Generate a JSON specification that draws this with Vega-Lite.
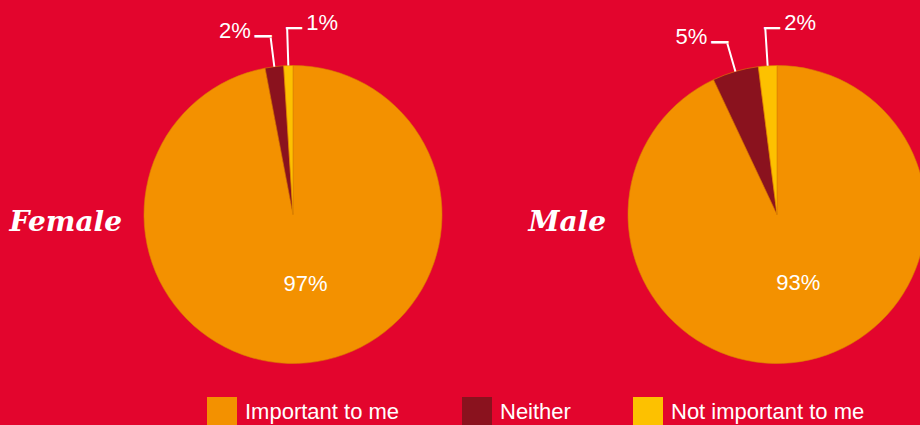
{
  "$schema": "https://vega.github.io/schema/vega-lite/v6.json",
  "width": 920,
  "height": 425,
  "autosize": {"type": "none"},
  "padding": {"left": 0, "top": 2, "right": 0, "bottom": 0},
  "background": "#E3052D",
  "config": {
    "view": {"stroke": null},
    "font": "Liberation Sans",
    "legend": {
      "orient": "none",
      "legendX": 207,
      "legendY": 395,
      "direction": "horizontal",
      "symbolType": "square",
      "symbolSize": 900,
      "symbolStrokeWidth": 0,
      "labelFont": "Liberation Sans",
      "labelFontSize": 22,
      "labelColor": "white",
      "labelOffset": 8,
      "labelLimit": 300,
      "columnPadding": 62,
      "padding": 0
    }
  },
  "data": {
    "values": [
      {"gender": "Female", "response": "Important to me", "pct": 97, "label": "97%"},
      {"gender": "Female", "response": "Neither", "pct": 2, "label": "2%"},
      {"gender": "Female", "response": "Not important to me", "pct": 1, "label": "1%"},
      {"gender": "Male", "response": "Important to me", "pct": 93, "label": "93%"},
      {"gender": "Male", "response": "Neither", "pct": 5, "label": "5%"},
      {"gender": "Male", "response": "Not important to me", "pct": 2, "label": "2%"}
    ]
  },
  "encoding": {
    "x": {"field": "gender", "type": "nominal", "scale": {"type": "point", "padding": 0.45041, "align": 0.67202}, "axis": null}
  },
  "layer": [
    {
      "transform": [{"filter": "datum.gender === 'Female'"}],
      "mark": {"type": "arc", "radius": 149, "stroke": "#DA8200", "strokeWidth": 0.6},
      "encoding": {
        "theta": {"field": "pct", "type": "quantitative", "stack": true, "scale": {"domain": [0, 100]}},
        "order": {"field": "response", "type": "nominal", "sort": "ascending"},
        "color": {
          "field": "response", "type": "nominal", "title": null,
          "scale": {"domain": ["Important to me", "Neither", "Not important to me"], "range": ["#F39100", "#8A121E", "#FDC100"]}
        }
      }
    },
    {
      "transform": [{"filter": "datum.gender === 'Male'"}],
      "mark": {"type": "arc", "radius": 149, "stroke": "#DA8200", "strokeWidth": 0.6},
      "encoding": {
        "theta": {"field": "pct", "type": "quantitative", "stack": true, "scale": {"domain": [0, 100]}},
        "order": {"field": "response", "type": "nominal", "sort": "ascending"},
        "color": {"field": "response", "type": "nominal", "title": null}
      }
    },
    {
      "transform": [{"filter": "datum.gender === 'Female'"}],
      "mark": {"type": "arc", "radius": 178, "radius2": 149, "padAngle": 0.6, "filled": false, "stroke": "white", "strokeWidth": 2},
      "encoding": {
        "theta": {"field": "pct", "type": "quantitative", "stack": true},
        "order": {"field": "response", "type": "nominal", "sort": "ascending"},
        "detail": {"field": "response", "type": "nominal"},
        "strokeOpacity": {"condition": {"test": "datum.response === 'Neither'", "value": 1}, "value": 0}
      }
    },
    {
      "transform": [{"filter": "datum.gender === 'Male'"}],
      "mark": {"type": "arc", "radius": 178, "radius2": 149, "padAngle": 0.6, "filled": false, "stroke": "white", "strokeWidth": 2},
      "encoding": {
        "theta": {"field": "pct", "type": "quantitative", "stack": true},
        "order": {"field": "response", "type": "nominal", "sort": "ascending"},
        "detail": {"field": "response", "type": "nominal"},
        "strokeOpacity": {"condition": {"test": "datum.response === 'Neither'", "value": 1}, "value": 0}
      }
    },
    {
      "transform": [{"filter": "datum.gender === 'Female'"}],
      "mark": {"type": "arc", "radius": 186, "radius2": 149, "padAngle": 0.6, "filled": false, "stroke": "white", "strokeWidth": 2},
      "encoding": {
        "theta": {"field": "pct", "type": "quantitative", "stack": true},
        "order": {"field": "response", "type": "nominal", "sort": "ascending"},
        "detail": {"field": "response", "type": "nominal"},
        "strokeOpacity": {"condition": {"test": "datum.response === 'Not important to me'", "value": 1}, "value": 0}
      }
    },
    {
      "transform": [{"filter": "datum.gender === 'Male'"}],
      "mark": {"type": "arc", "radius": 186, "radius2": 149, "padAngle": 0.6, "filled": false, "stroke": "white", "strokeWidth": 2},
      "encoding": {
        "theta": {"field": "pct", "type": "quantitative", "stack": true},
        "order": {"field": "response", "type": "nominal", "sort": "ascending"},
        "detail": {"field": "response", "type": "nominal"},
        "strokeOpacity": {"condition": {"test": "datum.response === 'Not important to me'", "value": 1}, "value": 0}
      }
    },
    {
      "transform": [{"filter": "datum.gender === 'Female'"}],
      "mark": {"type": "text", "radius": 178, "font": "DejaVu Sans", "fontSize": 28, "color": "white", "align": "right", "baseline": "middle", "dx": 1},
      "encoding": {
        "theta": {"field": "pct", "type": "quantitative", "stack": true},
        "order": {"field": "response", "type": "nominal", "sort": "ascending"},
        "detail": {"field": "response", "type": "nominal"},
        "text": {"condition": {"test": "datum.response === 'Neither'", "value": "─"}, "value": ""}
      }
    },
    {
      "transform": [{"filter": "datum.gender === 'Male'"}],
      "mark": {"type": "text", "radius": 178, "font": "DejaVu Sans", "fontSize": 28, "color": "white", "align": "right", "baseline": "middle", "dx": 1},
      "encoding": {
        "theta": {"field": "pct", "type": "quantitative", "stack": true},
        "order": {"field": "response", "type": "nominal", "sort": "ascending"},
        "detail": {"field": "response", "type": "nominal"},
        "text": {"condition": {"test": "datum.response === 'Neither'", "value": "─"}, "value": ""}
      }
    },
    {
      "transform": [{"filter": "datum.gender === 'Female'"}],
      "mark": {"type": "text", "radius": 186, "font": "DejaVu Sans", "fontSize": 26, "color": "white", "align": "left", "baseline": "middle", "dx": -1},
      "encoding": {
        "theta": {"field": "pct", "type": "quantitative", "stack": true},
        "order": {"field": "response", "type": "nominal", "sort": "ascending"},
        "detail": {"field": "response", "type": "nominal"},
        "text": {"condition": {"test": "datum.response === 'Not important to me'", "value": "─"}, "value": ""}
      }
    },
    {
      "transform": [{"filter": "datum.gender === 'Male'"}],
      "mark": {"type": "text", "radius": 186, "font": "DejaVu Sans", "fontSize": 26, "color": "white", "align": "left", "baseline": "middle", "dx": -1},
      "encoding": {
        "theta": {"field": "pct", "type": "quantitative", "stack": true},
        "order": {"field": "response", "type": "nominal", "sort": "ascending"},
        "detail": {"field": "response", "type": "nominal"},
        "text": {"condition": {"test": "datum.response === 'Not important to me'", "value": "─"}, "value": ""}
      }
    },
    {
      "transform": [{"filter": "datum.gender === 'Female'"}],
      "mark": {"type": "text", "radius": 70, "fontSize": 22, "color": "white", "align": "center", "baseline": "middle", "dx": 6},
      "encoding": {
        "theta": {"field": "pct", "type": "quantitative", "stack": true},
        "order": {"field": "response", "type": "nominal", "sort": "ascending"},
        "detail": {"field": "response", "type": "nominal"},
        "text": {"condition": {"test": "datum.response === 'Important to me'", "field": "label"}, "value": ""}
      }
    },
    {
      "transform": [{"filter": "datum.gender === 'Male'"}],
      "mark": {"type": "text", "radius": 70, "fontSize": 22, "color": "white", "align": "center", "baseline": "middle", "dx": 6},
      "encoding": {
        "theta": {"field": "pct", "type": "quantitative", "stack": true},
        "order": {"field": "response", "type": "nominal", "sort": "ascending"},
        "detail": {"field": "response", "type": "nominal"},
        "text": {"condition": {"test": "datum.response === 'Important to me'", "field": "label"}, "value": ""}
      }
    },
    {
      "transform": [{"filter": "datum.gender === 'Female'"}],
      "mark": {"type": "text", "radius": 178, "fontSize": 22, "color": "white", "align": "right", "baseline": "middle", "dx": -20, "dy": -7},
      "encoding": {
        "theta": {"field": "pct", "type": "quantitative", "stack": true},
        "order": {"field": "response", "type": "nominal", "sort": "ascending"},
        "detail": {"field": "response", "type": "nominal"},
        "text": {"condition": {"test": "datum.response === 'Neither'", "field": "label"}, "value": ""}
      }
    },
    {
      "transform": [{"filter": "datum.gender === 'Male'"}],
      "mark": {"type": "text", "radius": 178, "fontSize": 22, "color": "white", "align": "right", "baseline": "middle", "dx": -20, "dy": -7},
      "encoding": {
        "theta": {"field": "pct", "type": "quantitative", "stack": true},
        "order": {"field": "response", "type": "nominal", "sort": "ascending"},
        "detail": {"field": "response", "type": "nominal"},
        "text": {"condition": {"test": "datum.response === 'Neither'", "field": "label"}, "value": ""}
      }
    },
    {
      "transform": [{"filter": "datum.gender === 'Female'"}],
      "mark": {"type": "text", "radius": 186, "fontSize": 22, "color": "white", "align": "left", "baseline": "middle", "dx": 19, "dy": -6},
      "encoding": {
        "theta": {"field": "pct", "type": "quantitative", "stack": true},
        "order": {"field": "response", "type": "nominal", "sort": "ascending"},
        "detail": {"field": "response", "type": "nominal"},
        "text": {"condition": {"test": "datum.response === 'Not important to me'", "field": "label"}, "value": ""}
      }
    },
    {
      "transform": [{"filter": "datum.gender === 'Male'"}],
      "mark": {"type": "text", "radius": 186, "fontSize": 22, "color": "white", "align": "left", "baseline": "middle", "dx": 19, "dy": -6},
      "encoding": {
        "theta": {"field": "pct", "type": "quantitative", "stack": true},
        "order": {"field": "response", "type": "nominal", "sort": "ascending"},
        "detail": {"field": "response", "type": "nominal"},
        "text": {"condition": {"test": "datum.response === 'Not important to me'", "field": "label"}, "value": ""}
      }
    },
    {
      "mark": {"type": "text", "align": "right", "baseline": "alphabetic", "dx": -171, "dy": 16, "font": "DejaVu Serif", "fontSize": 28, "fontStyle": "italic", "fontWeight": "bold", "color": "white"},
      "encoding": {
        "text": {"condition": {"test": "datum.response === 'Important to me'", "field": "gender"}, "value": ""}
      }
    }
  ]
}
